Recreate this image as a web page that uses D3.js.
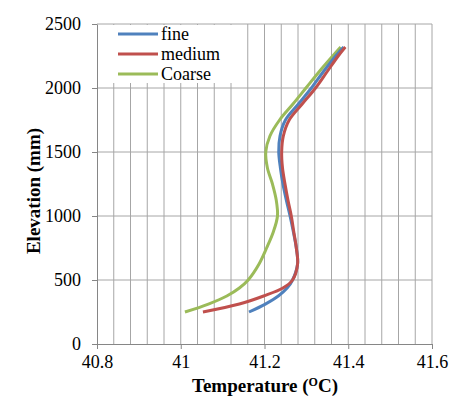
<!DOCTYPE html>
<html lang="en">
<head>
  <meta charset="utf-8">
  <script src="https://d3js.org/d3.v7.min.js"></script>
  <style>
    body { margin: 0; background: #fff; }
    svg text { font-family: "Liberation Serif", "Times New Roman", serif !important; }
  </style>
</head>
<body>
  <div id="my_dataviz"></div>
  <script>
    // values: [elevation (mm), temperature (C)]
    const fineData = [[250,41.163],[312,41.202],[375,41.233],[437,41.254],[500,41.267],[625,41.279],[750,41.276],[875,41.269],[1000,41.261],[1125,41.252],[1250,41.244],[1375,41.238],[1500,41.234],[1625,41.237],[1750,41.250],[1875,41.281],[2000,41.312],[2125,41.340],[2250,41.370],[2320,41.389]];
    const mediumData = [[250,41.053],[312,41.140],[375,41.198],[437,41.244],[500,41.267],[625,41.279],[750,41.276],[875,41.270],[1000,41.264],[1125,41.256],[1250,41.249],[1375,41.243],[1500,41.241],[1625,41.245],[1750,41.259],[1875,41.290],[2000,41.322],[2125,41.349],[2250,41.376],[2320,41.393]];
    const coarseData = [[250,41.010],[312,41.066],[375,41.110],[437,41.140],[500,41.161],[625,41.187],[750,41.205],[875,41.221],[1000,41.231],[1125,41.228],[1250,41.219],[1375,41.207],[1500,41.203],[1625,41.213],[1750,41.236],[1875,41.268],[2000,41.299],[2125,41.330],[2250,41.363],[2320,41.382]];

    const seriesNames = ["fine", "medium", "Coarse"];
    const seriesColors = ["#4f81bd", "#c0504d", "#9bbb59"];
    const xTicks = [40.8, 41, 41.2, 41.4, 41.6];
    const yTicks = [0, 500, 1000, 1500, 2000, 2500];

    const margin = {top: 24, right: 25, bottom: 65, left: 97},
        width = 432 - margin.left,
        height = 344 - margin.top;

    const svg = d3.select("#my_dataviz")
      .append("svg")
        .attr("width", 457)
        .attr("height", 409)
      .append("g")
        .attr("transform", `translate(${margin.left},${margin.top})`);

    const x = d3.scaleLinear().domain([40.8, 41.6]).range([0, width]);
    const y = d3.scaleLinear().domain([0, 2500]).range([height, 0]);

    // minor vertical gridlines every 0.04
    const vGrid = d3.range(1, 21).map(i => 40.8 + i * 0.04);
    svg.selectAll(".vgrid")
      .data(vGrid)
      .join("line")
        .attr("x1", d => x(d)).attr("x2", d => x(d))
        .attr("y1", 0).attr("y2", height)
        .attr("stroke", "#a6a6a6").attr("stroke-width", 1);

    svg.selectAll(".hgrid")
      .data(yTicks.slice(1))
      .join("line")
        .attr("x1", 0).attr("x2", width)
        .attr("y1", d => y(d)).attr("y2", d => y(d))
        .attr("stroke", "#a6a6a6").attr("stroke-width", 1);

    // legend background hides the gridlines behind it
    svg.append("rect")
      .attr("x", 1).attr("y", 1)
      .attr("width", 139).attr("height", 58)
      .attr("fill", "#fff");

    // X axis
    const xAxis = svg.append("g")
      .attr("transform", `translate(0, ${height})`)
      .call(d3.axisBottom(x).tickValues(xTicks).tickSize(5).tickSizeOuter(0).tickFormat(d3.format("")));
    xAxis.attr("font-family", "Liberation Serif, serif").attr("font-size", 18);
    xAxis.select(".domain").attr("stroke", "#868686");
    xAxis.selectAll(".tick line").attr("stroke", "#868686");
    xAxis.selectAll("text")
      .attr("fill", "#000")
      .attr("dy", "0.9em");

    // Y axis
    const yAxis = svg.append("g")
      .call(d3.axisLeft(y).tickValues(yTicks).tickSize(5).tickSizeOuter(0).tickFormat(d3.format("d")));
    yAxis.attr("font-family", "Liberation Serif, serif").attr("font-size", 18);
    yAxis.select(".domain").attr("stroke", "#868686");
    yAxis.selectAll(".tick line").attr("stroke", "#868686");
    yAxis.selectAll("text")
      .attr("fill", "#000")
      .attr("x", -16);

    // Lines
    const line = d3.line()
      .x(d => x(d[1]))
      .y(d => y(d[0]))
      .curve(d3.curveCatmullRom.alpha(0.5));

    const allData = [fineData, mediumData, coarseData];
    svg.selectAll(".series")
      .data([2, 0, 1])
      .join("path")
        .attr("d", i => line(allData[i]))
        .attr("fill", "none")
        .attr("stroke", i => seriesColors[i])
        .attr("stroke-width", 3)
        .attr("stroke-linecap", "butt");

    // Legend
    const legend = svg.selectAll(".legend")
      .data(seriesNames)
      .join("g")
        .attr("transform", (d, i) => `translate(21, ${10 + i * 20})`);
    legend.append("line")
      .attr("x1", 0).attr("x2", 40)
      .attr("stroke", (d, i) => seriesColors[i])
      .attr("stroke-width", 3);
    legend.append("text")
      .attr("x", 43).attr("dy", "0.33em")
      .style("font-size", "18px")
      .text(d => d);

    // X axis label
    const xLabel = svg.append("text")
      .attr("x", 168)
      .attr("y", 368)
      .attr("text-anchor", "middle")
      .style("font-size", "19px")
      .style("font-weight", "bold");
    xLabel.append("tspan").text("Temperature (");
    xLabel.append("tspan").attr("dy", "-6").style("font-size", "12px").text("O");
    xLabel.append("tspan").attr("dy", "6").text("C)");

    // Y axis label
    svg.append("text")
      .attr("transform", "rotate(-90)")
      .attr("x", -167)
      .attr("y", -57)
      .style("text-anchor", "middle")
      .style("font-size", "19px")
      .style("font-weight", "bold")
      .text("Elevation (mm)");
  </script>
</body>
</html>
